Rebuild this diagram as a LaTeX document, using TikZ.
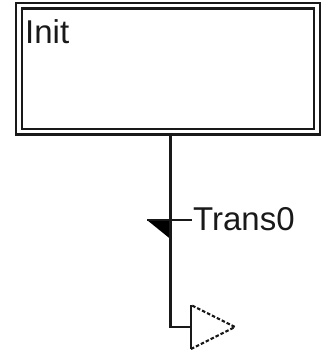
\documentclass[tikz,border=0pt]{standalone}
\usepackage{fontspec}
\setmainfont{Liberation Sans}
\begin{document}
\begin{tikzpicture}[x=1pt,y=-1pt,
  wire/.style={line width=2.4pt,draw=black!90},
  stepbox/.style={draw=black!90,line width=2.4pt,double=white,double distance=3.2pt,
    rectangle,inner sep=0pt,minimum width=298pt,minimum height=126pt},
  lbl/.style={inner sep=0pt,font=\fontsize{33}{40}\selectfont,text=black!90},
  jump/.style={line width=2.2pt,draw=black!90}]
  \useasboundingbox (0,0) rectangle (323,351);
  % initial step
  \node[stepbox] (init) at (168,68.5) {};
  \node[lbl,anchor=north west] (initlbl) at (25,19) {Init};
  % transition
  \coordinate (tr) at (170.5,220);
  \coordinate (trL) at (147,220);
  \coordinate (trR) at (192,220);
  \coordinate (trB) at (170.5,239);
  \fill[black] (trL) -- (tr) -- (trB) -- cycle;
  \draw[wire] (trL) -- (trR);
  \node[lbl,anchor=west] (trlbl) at (193,219) {Trans0};
  % link to the jump arrow
  \coordinate (corner) at (170.5,327);
  \coordinate (jin) at (191,327);
  \draw[wire] (init.south -| tr) -- (corner) -- (jin);
  % jump symbol
  \coordinate (jt) at (191,305);
  \coordinate (jb) at (191,349);
  \coordinate (jp) at (235,327);
  \draw[jump] (jt) -- (jb);
  \draw[jump,dash pattern=on 3.5pt off 2pt] (jb) -- (jp) -- (jt);
\end{tikzpicture}
\end{document}
